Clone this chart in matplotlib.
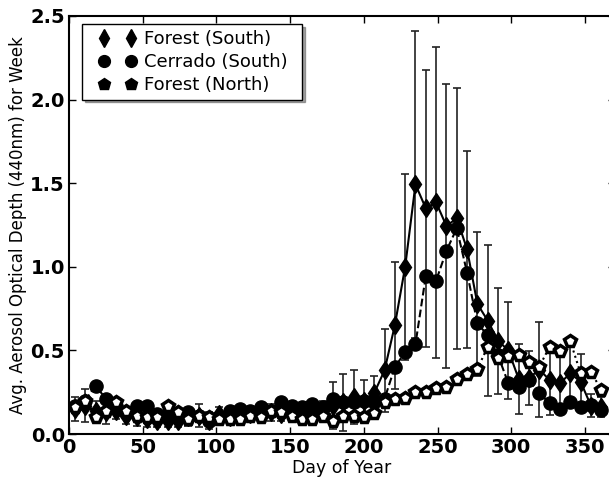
import matplotlib
matplotlib.use("Agg")
import matplotlib.pyplot as plt
from matplotlib.lines import Line2D
from matplotlib.legend_handler import HandlerLine2D

plt.rcParams['font.family'] = ['DejaVu Sans']

days = [4 + 7 * k for k in range(52)]

forest_south = [0.15, 0.17, 0.14, 0.13, 0.14, 0.11, 0.10, 0.09, 0.08, 0.08,
                0.08, 0.10, 0.11, 0.08, 0.12, 0.10, 0.11, 0.12, 0.12, 0.13,
                0.12, 0.13, 0.12, 0.13, 0.14, 0.17, 0.19, 0.22, 0.20, 0.245,
                0.38, 0.65, 1.00, 1.493, 1.35, 1.385, 1.244, 1.29, 1.105, 0.778,
                0.678, 0.558, 0.50, 0.33, 0.335, 0.385, 0.323, 0.303, 0.363, 0.313,
                0.17, 0.16]
forest_south_err = [0.07, 0.10, 0.06, 0.07, 0.05, 0.05, 0.05, 0.05, 0.04, 0.04,
                    0.04, 0.05, 0.07, 0.05, 0.04, 0.04, 0.04, 0.04, 0.04, 0.05,
                    0.04, 0.05, 0.05, 0.05, 0.06, 0.14, 0.17, 0.16, 0.12, 0.10,
                    0.25, 0.38, 0.557, 0.917, 0.827, 0.93, 0.85, 0.78, 0.59, 0.43,
                    0.45, 0.317, 0.29, 0.21, 0.16, 0.285, 0.21, 0.17, 0.20, 0.165,
                    0.07, 0.06]
cerrado_south = [0.17, 0.20, 0.29, 0.21, 0.17, 0.13, 0.17, 0.17, 0.12, 0.10,
                 0.12, 0.13, 0.11, 0.08, 0.10, 0.14, 0.15, 0.14, 0.16, 0.14,
                 0.19, 0.17, 0.16, 0.18, 0.16, 0.21, 0.19, 0.19, 0.20, 0.19,
                 0.21, 0.40, 0.49, 0.538, 0.945, 0.917, 1.096, 1.23, 0.965, 0.662,
                 0.59, 0.47, 0.303, 0.279, 0.32, 0.247, 0.183, 0.148, 0.193, 0.16,
                 0.173, 0.143]
forest_north = [0.16, 0.20, 0.10, 0.14, 0.19, 0.14, 0.11, 0.10, 0.10, 0.17,
                0.13, 0.09, 0.11, 0.10, 0.09, 0.09, 0.09, 0.11, 0.10, 0.14,
                0.13, 0.11, 0.09, 0.09, 0.11, 0.08, 0.11, 0.11, 0.10, 0.124,
                0.193, 0.209, 0.217, 0.253, 0.249, 0.273, 0.279, 0.327, 0.359, 0.389,
                0.522, 0.453, 0.467, 0.473, 0.429, 0.403, 0.522, 0.498, 0.556, 0.363,
                0.373, 0.263]

labels = ['Forest (South)', 'Cerrado (South)', 'Forest (North)']

W, H = 609, 479
fig = plt.figure(figsize=(W / 100, H / 100), dpi=100)
left, right, top, bottom = 69, 614.5, 16, 434
ax = fig.add_axes([left / W, (H - bottom) / H, (right - left) / W, (bottom - top) / H])

ax.errorbar(days, forest_south, yerr=forest_south_err, color='black', ecolor='#222222',
            linestyle='-', linewidth=1.5, marker='d', markersize=9.5,
            markerfacecolor='black', markeredgecolor='black',
            elinewidth=1.2, capsize=2.8, capthick=1.2, zorder=2)
ax.plot(days, cerrado_south, color='black', linestyle='--', linewidth=1.5,
        marker='o', markersize=9.5, markerfacecolor='black', markeredgecolor='black', zorder=3)
ax.plot(days, forest_north, color='black', linestyle=':', linewidth=1.5,
        marker='p', markersize=8.5, markerfacecolor='white', markeredgecolor='black',
        markeredgewidth=2.5, zorder=4)

ax.set_xlim(0, 370)
ax.set_ylim(0, 2.5)
ax.set_xticks([0, 50, 100, 150, 200, 250, 300, 350])
ax.set_yticks([0.0, 0.5, 1.0, 1.5, 2.0, 2.5])
ax.set_yticklabels(['0.0', '0.5', '1.0', '1.5', '2.0', '2.5'])
ax.tick_params(direction='in', top=True, right=True, length=5, width=1,
               labelsize=14, pad=3)
for lab in ax.get_xticklabels() + ax.get_yticklabels():
    lab.set_fontweight('bold')
for s in ax.spines.values():
    s.set_linewidth(1.5)

ax.set_xlabel('Day of Year', fontsize=12.5, labelpad=1)
ax.set_ylabel('Avg. Aerosol Optical Depth (440nm) for Week', fontsize=12, labelpad=2)

handles = [
    Line2D([], [], linestyle='none', marker='d', markersize=9, color='black'),
    Line2D([], [], linestyle='none', marker='o', markersize=8.5, color='black'),
    Line2D([], [], linestyle='none', marker='p', markersize=9, color='black'),
]
hmap = {h: HandlerLine2D(marker_pad=0.9, numpoints=2) for h in handles}
x0 = (82 - left) / (right - left)
wd = (302 - 82) / (right - left)
y1 = (bottom - 24.3) / (bottom - top)
leg = ax.legend(handles, labels, loc='upper left', numpoints=2, fontsize=13,
                shadow=True, fancybox=False, framealpha=1, edgecolor='black',
                borderpad=0.32, labelspacing=0.27, handlelength=3.3, handletextpad=-0.2,
                borderaxespad=0, mode='expand', handler_map=hmap,
                bbox_to_anchor=(x0, y1 - 0.3, wd, 0.3))
leg.get_frame().set_linewidth(1.0)

fig.savefig('out.png', dpi=100)
